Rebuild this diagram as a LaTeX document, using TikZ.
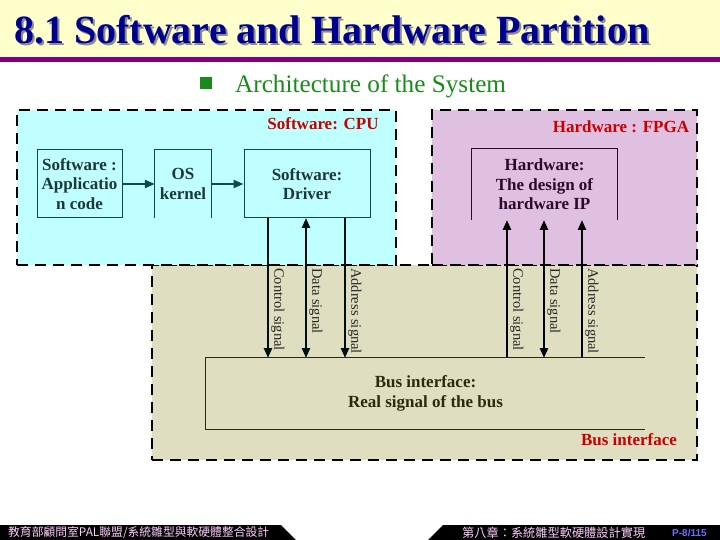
\documentclass[tikz,border=0pt]{standalone}
\usepackage{fontspec}
\setmainfont{Liberation Serif}
\newfontfamily\cjkfont{Noto Sans CJK TC}
\newfontfamily\footsans{Liberation Sans}
\usetikzlibrary{arrows.meta}
\definecolor{titlebg}{HTML}{FFFFCC}
\definecolor{titleline}{HTML}{800080}
\definecolor{titleblue}{HTML}{000090}
\definecolor{subgreen}{HTML}{1A8A1A}
\definecolor{cpubg}{HTML}{C0FFFF}
\definecolor{fpgabg}{HTML}{E0C0E0}
\definecolor{busbg}{HTML}{E0DEC0}
\definecolor{tealline}{HTML}{0F4A4A}
\definecolor{tealtext}{HTML}{1A3838}
\definecolor{purptext}{HTML}{2A0A2A}
\definecolor{olivetext}{HTML}{2A2A10}
\definecolor{redlabel}{HTML}{C80000}
\definecolor{footpink}{HTML}{FFCCFF}
\definecolor{footblue}{HTML}{7070FF}
\begin{document}
\begin{tikzpicture}[x=1pt,y=-1pt,
  region/.style={draw=black, line width=2.5pt, dash pattern=on 11pt off 7pt, inner sep=0pt},
  boxtext/.style={align=center, inner sep=0pt, font=\bfseries\fontsize{17}{19.5}\selectfont},
  redtag/.style={text=redlabel, font=\bfseries\fontsize{17}{19}\selectfont, inner sep=0pt},
  siglabel/.style={rotate=-90, anchor=south west, inner sep=1pt, text=black!85, font=\fontsize{14.5}{16}\selectfont},
  sigline/.style={line width=2.4pt},
  tip/.style={-{Triangle[length=10pt,width=8pt]}},
  footbar/.style={fill=black}
]
\useasboundingbox (0,0) rectangle (720,540);
% title band
\fill[titlebg] (0,0) rectangle (720,57);
\fill[titleline] (0,57) rectangle (720,62);
\node[anchor=base west, inner sep=0pt, text=titleblue, font=\bfseries\fontsize{40}{44}\selectfont] (title) at (14,44)
  {\rlap{\hspace{2pt}\raisebox{-2pt}{\textcolor{black!45}{8.1 Software and Hardware Partition}}}8.1 Software and Hardware Partition};
% subtitle
\node[fill=subgreen, minimum size=12pt, inner sep=0pt] (bullet) at (206,83) {};
\node[anchor=base west, inner sep=0pt, text=subgreen, font=\fontsize{25.2}{28}\selectfont] (subtitle) at (235,93) {Architecture of the System};
% regions
\node[region, fill=busbg, minimum width=545pt, minimum height=195pt] (busreg) at (424.5,362.5) {};
\node[region, fill=cpubg, minimum width=379pt, minimum height=155pt] (cpureg) at (206.5,187.5) {};
\node[region, fill=fpgabg, minimum width=265pt, minimum height=155pt] (fpgareg) at (564.5,187.5) {};
% region tags
\node[redtag] (cputag) at (323,124) {Software: CPU};
\node[redtag] (fpgatag) at (621,127) {Hardware : FPGA};
\node[redtag] (bustag) at (629,440) {Bus interface};
% CPU boxes
\node[boxtext, text=tealtext, draw=tealline, line width=1pt, minimum width=85pt, minimum height=68pt] (app) at (79.5,184) {Software :\\Applicatio\\n code};
\node[boxtext, text=tealtext, minimum width=56pt, minimum height=68pt] (os) at (183,184) {OS\\kernel};
\draw[tealline, line width=1pt] (os.south west) |- (os.north east) -- (os.south east);
\node[boxtext, text=tealtext, draw=tealline, line width=1pt, minimum width=126pt, minimum height=68pt] (drv) at (307,184) {Software:\\Driver};
\draw[tealline, sigline, tip] (app) -- (os);
\draw[tealline, sigline, tip] (os) -- (drv);
% FPGA box
\node[boxtext, text=purptext, minimum width=145pt, minimum height=71pt] (hw) at (544.5,184.5) {Hardware:\\The design of\\hardware IP};
\draw[purptext, line width=1pt] (hw.south west) |- (hw.north east) -- (hw.south east);
% bus box
\node[boxtext, text=olivetext, minimum width=439pt, minimum height=71pt] (bus) at (425.5,393.5) {Bus interface:\\Real signal of the bus};
\draw[olivetext, line width=1pt] (bus.north east) -| (bus.south west) -- (bus.south east);
% CPU side signals
\coordinate (c1t) at (268,218); \coordinate (c1b) at (268,358);
\coordinate (c2t) at (306,218); \coordinate (c2b) at (306,358);
\coordinate (c3t) at (345,218); \coordinate (c3b) at (345,358);
\draw[sigline, color=black!88!teal, tip] (c1t) -- (c1b);
\draw[sigline, color=black!88!teal, {Triangle[length=10pt,width=8pt]}-{Triangle[length=10pt,width=8pt]}] (c2t) -- (c2b);
\draw[sigline, color=black!88!teal, tip] (c3t) -- (c3b);
\node[siglabel] (lc1) at (270,267) {Control signal};
\node[siglabel] (lc2) at (308,267) {Data signal};
\node[siglabel] (lc3) at (347,267) {Address signal};
% FPGA side signals
\coordinate (h1t) at (507,220); \coordinate (h1b) at (507,358);
\coordinate (h2t) at (544,220); \coordinate (h2b) at (544,358);
\coordinate (h3t) at (582,220); \coordinate (h3b) at (582,358);
\draw[sigline, tip] (h1b) -- (h1t);
\draw[sigline, {Triangle[length=10pt,width=8pt]}-{Triangle[length=10pt,width=8pt]}] (h2b) -- (h2t);
\draw[sigline, tip] (h3b) -- (h3t);
\node[siglabel] (lh1) at (509,267) {Control signal};
\node[siglabel] (lh2) at (546,267) {Data signal};
\node[siglabel] (lh3) at (584,267) {Address signal};
% footer
\fill[footbar] (0,525) -- (281,525) -- (296,540) -- (0,540) -- cycle;
\fill[footbar] (428,540) -- (443,525) -- (720,525) -- (720,540) -- cycle;
\node[anchor=west, inner sep=0pt, text=footpink, font=\cjkfont\fontsize{11.8}{13}\selectfont] (footl) at (8,532.5) {教育部顧問室PAL聯盟/系統雛型與軟硬體整合設計};
\node[anchor=west, inner sep=0pt, text=footpink, font=\cjkfont\fontsize{12.2}{13}\selectfont] (footr) at (462,532.5) {第八章：系統雛型軟硬體設計實現};
\node[anchor=west, inner sep=0pt, text=footblue, font=\footsans\bfseries\fontsize{10}{12}\selectfont] (page) at (672,532.5) {P-8/115};
\end{tikzpicture}
\end{document}
